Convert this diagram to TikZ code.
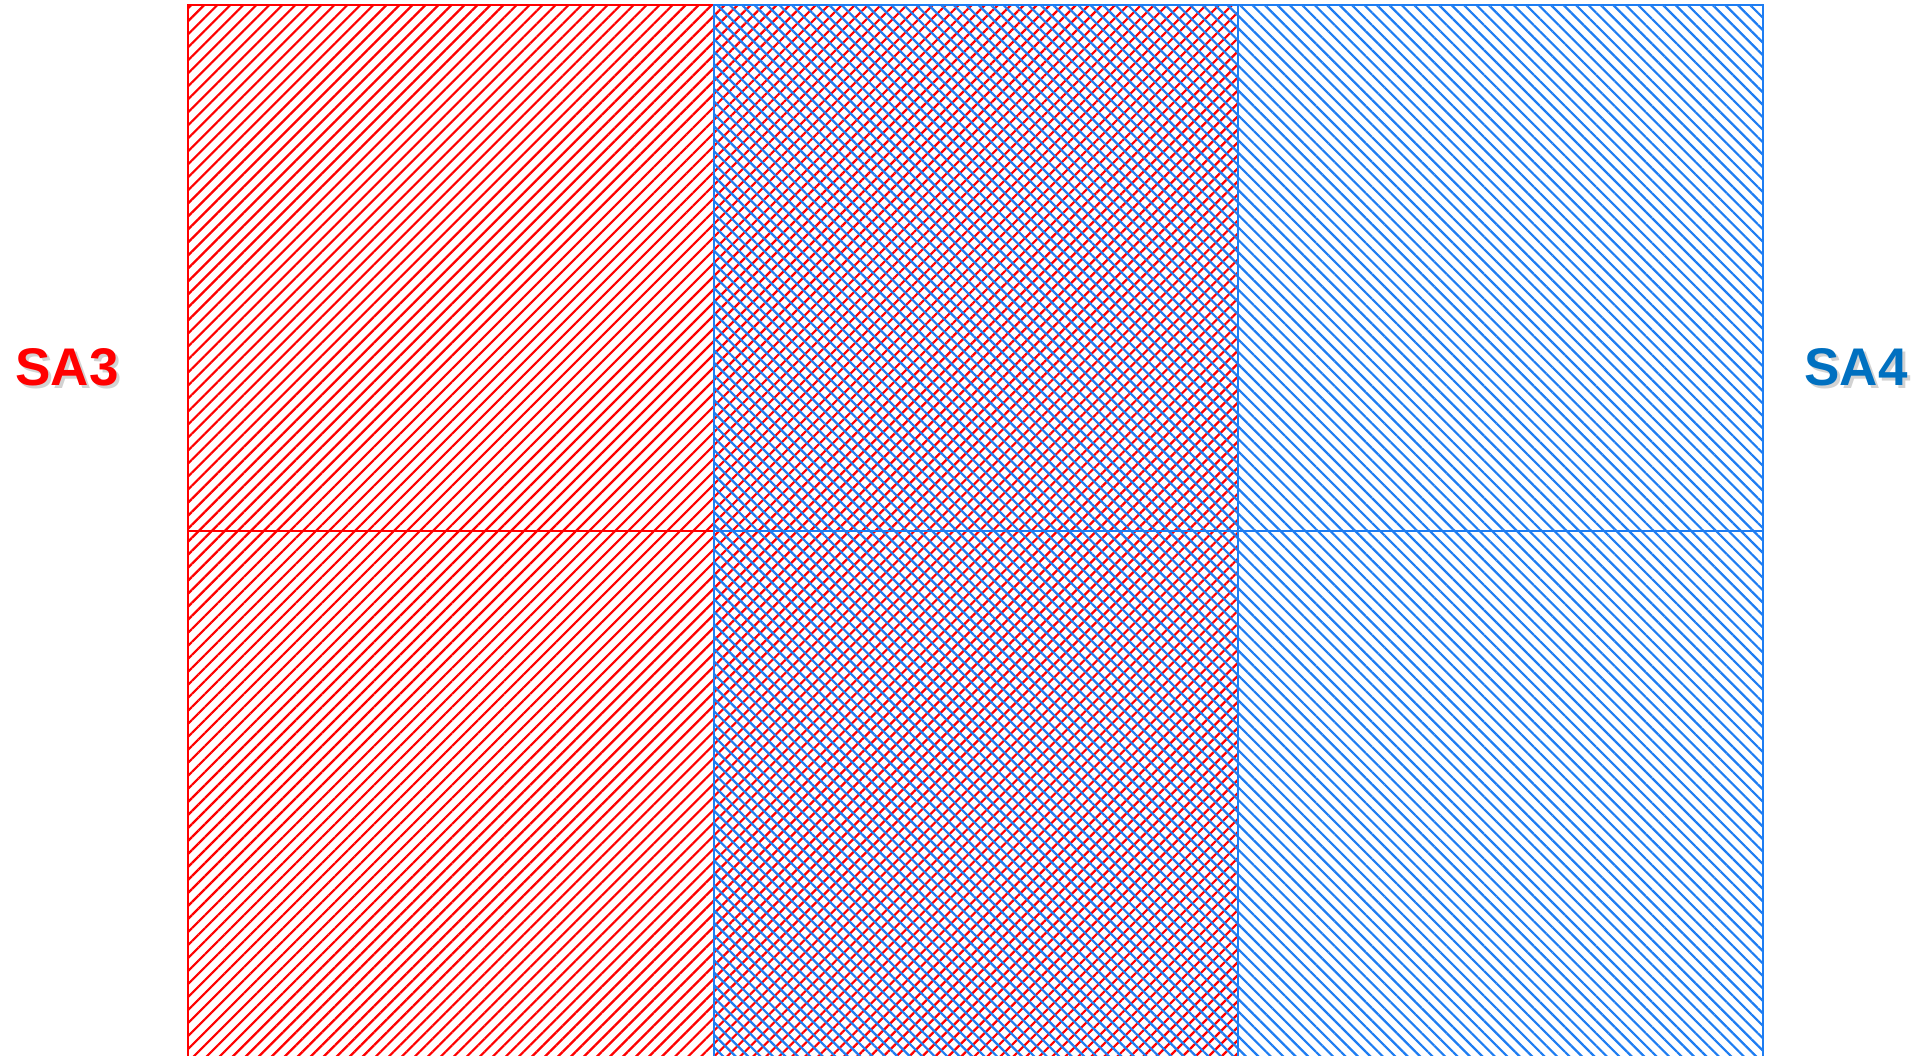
\documentclass[tikz,border=0pt]{standalone}
\usepackage{fontspec}
\setmainfont{Liberation Sans}
\usepackage{tikz}
\usetikzlibrary{patterns.meta}
\definecolor{saRed}{HTML}{FF0000}
\definecolor{saBlue}{HTML}{1E7DF2}
\definecolor{saBlueTxt}{HTML}{0070C0}
\tikzset{
  redhatch/.style  ={pattern={Lines[angle=45,distance=4.6pt,line width=1.1pt]},pattern color=saRed},
  bluehatch/.style ={pattern={Lines[angle=-45,distance=4.4pt,line width=1.1pt]},pattern color=saBlue},
  redgrid/.style   ={draw=saRed,line width=1.1pt},
  bluegrid/.style  ={draw=saBlue,line width=1.1pt},
  salbl/.style     ={font=\fontsize{26.5}{30}\selectfont\bfseries,inner sep=0pt},
  shadowlbl/.style ={salbl,text=black!25,opacity=0.7},
}

\begin{document}
\begin{tikzpicture}[x=0.5pt,y=0.5pt]
\useasboundingbox (0,0) rectangle (1916,1055);
\clip (0,0) rectangle (1916,1055);

% hatched areas, overlap in the middle column
\fill[redhatch]  (188,-2) rectangle (1238,1050);
\fill[bluehatch] (714,-2) rectangle (1763,1050);

% cell outlines
\draw[redgrid] (188,-2) rectangle (1238,1050);
\draw[redgrid] (188,524) -- (714,524);
\draw[bluegrid] (714,-2) rectangle (1763,1050);
\draw[bluegrid] (714,524) -- (1763,524);
\draw[bluegrid] (1238,-2) -- (1238,1050);

% labels
\node[shadowlbl] at (70,685) {SA3};
\node[salbl,text=saRed] (sa3) at (67,688) {SA3};
\node[shadowlbl] at (1859,685) {SA4};
\node[salbl,text=saBlueTxt] (sa4) at (1856,688) {SA4};
\end{tikzpicture}
\end{document}
